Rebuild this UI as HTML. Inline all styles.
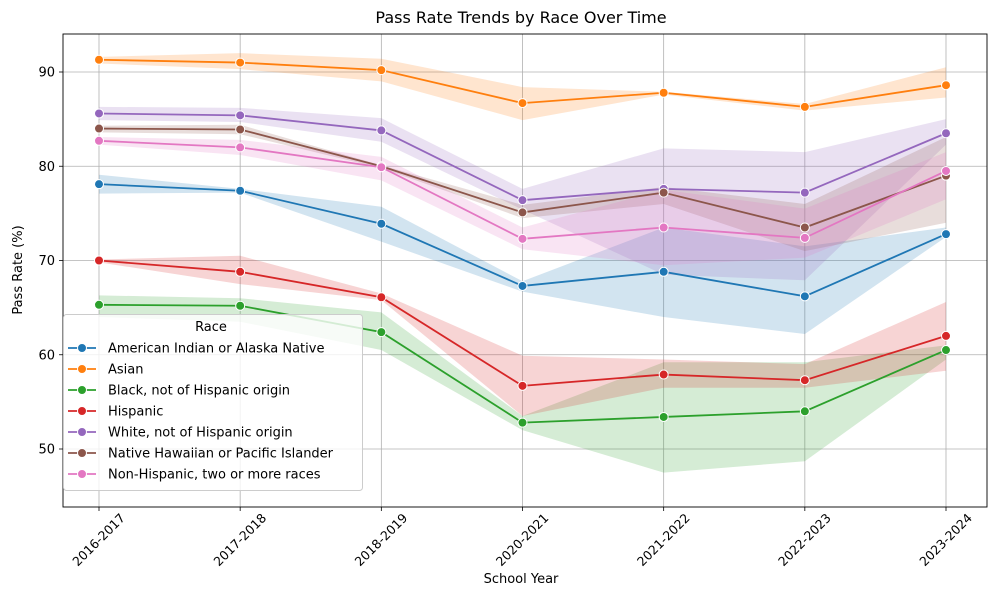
<!DOCTYPE html>
<html><head><meta charset="utf-8"><style>
body{margin:0;background:#fff;font-family:"Liberation Sans","DejaVu Sans",sans-serif;}
svg text{font-family:"DejaVu Sans","Liberation Sans",sans-serif;}
</style></head><body>
<svg id="chart" width="996" height="596" xmlns="http://www.w3.org/2000/svg"></svg>
<script>
const categories=["2016-2017","2017-2018","2018-2019","2020-2021","2021-2022","2022-2023","2023-2024"];
const seriesNames=["American Indian or Alaska Native","Asian","Black, not of Hispanic origin","Hispanic","White, not of Hispanic origin","Native Hawaiian  or Pacific Islander","Non-Hispanic, two or more races"];
const colors=["#1f77b4","#ff7f0e","#2ca02c","#d62728","#9467bd","#8c564b","#e377c2"];
const aianVals=[78.1,77.4,73.9,67.3,68.8,66.2,72.8];
const aianLo=[77.1,77.2,72.0,66.7,64.0,62.2,72.5];
const aianHi=[79.1,77.6,75.7,67.8,73.5,71.5,73.5];
const asianVals=[91.3,91.0,90.2,86.7,87.8,86.3,88.6];
const asianLo=[90.9,90.3,89.0,84.9,87.6,85.9,87.3];
const asianHi=[91.6,92.0,91.4,88.4,87.9,86.6,90.5];
const blackVals=[65.3,65.2,62.4,52.8,53.4,54.0,60.5];
const blackLo=[64.0,63.5,60.5,52.0,47.5,48.7,59.5];
const blackHi=[66.3,66.0,64.5,53.5,59.2,59.2,61.0];
const hispVals=[70.0,68.8,66.1,56.7,57.9,57.3,62.0];
const hispLo=[69.8,67.5,65.8,53.5,56.5,56.5,58.3];
const hispHi=[70.1,70.5,66.5,59.9,59.5,59.0,65.6];
const whiteVals=[85.6,85.4,83.8,76.4,77.6,77.2,83.5];
const whiteLo=[84.9,84.7,82.6,75.4,68.5,67.9,82.3];
const whiteHi=[86.3,86.2,85.1,77.6,81.9,81.5,85.0];
const nhpiVals=[84.0,83.9,80.0,75.1,77.2,73.5,79.0];
const nhpiLo=[83.6,83.4,79.8,74.5,76.0,71.0,74.0];
const nhpiHi=[84.3,84.4,80.1,75.9,77.8,76.0,83.1];
const twoVals=[82.7,82.0,79.9,72.3,73.5,72.4,79.5];
const twoLo=[82.3,81.2,78.5,71.2,69.5,70.3,76.5];
const twoHi=[83.1,82.8,81.0,73.5,77.5,75.5,81.5];
const yTicks=[50,60,70,80,90];

const vals=[aianVals,asianVals,blackVals,hispVals,whiteVals,nhpiVals,twoVals];
const los=[aianLo,asianLo,blackLo,hispLo,whiteLo,nhpiLo,twoLo];
const his=[aianHi,asianHi,blackHi,hispHi,whiteHi,nhpiHi,twoHi];
const L=63,R=987,T=34,B=507;
function xs(i){return 99+i*(946-99)/(categories.length-1);}
function ys(v){return 72+(90-v)*(377/40);}
const svg=document.getElementById('chart');
const NS="http://www.w3.org/2000/svg";
function mk(tag,attrs,parent){const e=document.createElementNS(NS,tag);for(const k in attrs)e.setAttribute(k,attrs[k]);(parent||svg).appendChild(e);return e;}
yTicks.forEach(v=>{const g=mk('line',{x1:L,x2:R,y1:ys(v),y2:ys(v),stroke:'#b0b0b0','stroke-width':0.8});


const t=mk('text',{x:L-8,y:ys(v)+4.5,'text-anchor':'end','font-size':13,fill:'#000'});t.textContent=v;


mk('line',{x1:L-4,x2:L,y1:ys(v),y2:ys(v),stroke:'#000','stroke-width':0.8});});
categories.forEach((c,i)=>{const g=mk('line',{x1:xs(i),x2:xs(i),y1:T,y2:B,stroke:'#b0b0b0','stroke-width':0.8});


mk('line',{x1:xs(i),x2:xs(i),y1:B,y2:B+4,stroke:'#000','stroke-width':0.8});
const cy=B+33;
const t=mk('text',{x:xs(i),y:cy+4,'text-anchor':'middle','font-size':12.5,transform:`rotate(-45 ${xs(i)} ${cy})`});t.textContent=c;

});
vals.forEach((s,k)=>{let d='';los[k].forEach((v,i)=>{d+=(i?'L':'M')+xs(i)+','+ys(v);});
for(let i=his[k].length-1;i>=0;i--)d+='L'+xs(i)+','+ys(his[k][i]);d+='Z';
const p=mk('path',{d:d,fill:colors[k],'fill-opacity':0.2,stroke:'none'});

});
vals.forEach((s,k)=>{const pts=s.map((v,i)=>xs(i)+','+ys(v)).join(' ');
const l=mk('polyline',{points:pts,fill:'none',stroke:colors[k],'stroke-width':1.8});


s.forEach((v,i)=>{const c=mk('circle',{cx:xs(i),cy:ys(v),r:4.5,fill:colors[k],stroke:'#fff','stroke-width':1});

});});
mk('rect',{x:L,y:T,width:R-L,height:B-T,fill:'none',stroke:'#000','stroke-width':0.9});
let t=mk('text',{x:521,y:23,'text-anchor':'middle','font-size':16});t.textContent='Pass Rate Trends by Race Over Time';


t=mk('text',{x:521,y:583,'text-anchor':'middle','font-size':13});t.textContent='School Year';


t=mk('text',{x:22,y:270,'text-anchor':'middle','font-size':13,transform:'rotate(-90 22 270)'});t.textContent='Pass Rate (%)';


const lg=mk('g',{});


mk('rect',{x:63.5,y:314.5,width:299,height:176,rx:3,fill:'#fff','fill-opacity':0.8,stroke:'#ccc'},lg);
t=mk('text',{x:211,y:331,'text-anchor':'middle','font-size':13},lg);t.textContent='Race';
seriesNames.forEach((n,k)=>{const y=348+k*21;
const e=mk('g',{},lg);


mk('line',{x1:68,x2:96,y1:y,y2:y,stroke:colors[k],'stroke-width':1.8},e);
mk('circle',{cx:82,cy:y,r:4.5,fill:colors[k],stroke:'#fff','stroke-width':1},e);
const tt=mk('text',{x:108,y:y+4.5,'font-size':13},e);tt.textContent=n;});
</script>
</body></html>
